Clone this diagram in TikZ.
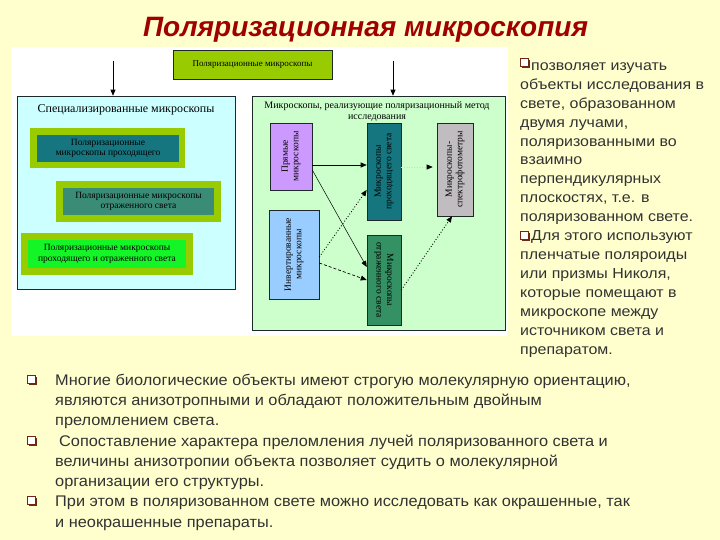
\documentclass[tikz,border=0pt]{standalone}
\usepackage{fontspec}
\setmainfont{Liberation Sans}
\newfontfamily\diagfont{Liberation Serif}
\newfontfamily\rfont[FakeStretch=1.1]{Liberation Sans}
\newfontfamily\bfont[FakeStretch=1.06]{Liberation Sans}
\usetikzlibrary{arrows.meta,calc}
\definecolor{bgy}{RGB}{255,255,206}
\definecolor{titlered}{RGB}{160,0,0}
\definecolor{ygreen}{RGB}{153,204,0}
\definecolor{tealA}{RGB}{22,118,128}
\definecolor{tealB}{RGB}{58,140,118}
\definecolor{limeC}{RGB}{20,245,40}
\definecolor{cyanbg}{RGB}{204,255,255}
\definecolor{greenbg}{RGB}{204,255,204}
\definecolor{purpleD}{RGB}{204,153,255}
\definecolor{grayD}{RGB}{192,188,192}
\definecolor{blueD}{RGB}{153,204,255}
\definecolor{greenD}{RGB}{51,145,100}
\definecolor{edge}{RGB}{30,40,40}
\definecolor{txt}{RGB}{50,50,50}
\definecolor{bulc}{RGB}{110,40,20}
\tikzset{
  box/.style={draw=edge, line width=0.6pt, inner sep=1pt, align=center, font=\diagfont\fontsize{9.5}{10.5}\selectfont},
  plain/.style={inner sep=0pt, outer sep=0pt},
  arr/.style={-{Triangle[length=6pt,width=5pt]}, line width=0.7pt, black},
  dotarr/.style={-{Triangle[length=6pt,width=5pt]}, line width=0.9pt, black, dotted},
  rtext/.style={inner sep=0pt, anchor=base west, text=txt, font=\rfont\fontsize{14.5}{16}\selectfont},
  btext/.style={inner sep=0pt, anchor=base west, text=txt, font=\bfont\fontsize{15.4}{17}\selectfont},
  qb/.pic={
    \fill[bulc] (2,2) rectangle (10,10);
    \filldraw[fill=white, draw=bulc, line width=1.1pt] (0.5,0.5) rectangle (8.5,8.5);
  }
}
\begin{document}
\begin{tikzpicture}[x=1pt,y=-1pt]
\useasboundingbox (0,0) rectangle (720,540);
\fill[bgy] (0,0) rectangle (720,540);
\fill[white] (11,47) rectangle (508,336);
% title
\node[plain, anchor=base, text=titlered, font=\bfseries\itshape\fontsize{28}{32}\selectfont] (title) at (365.5,37) {Поляризационная микроскопия};
% top box
\node[box, fill=ygreen, minimum width=159pt, minimum height=29pt, font=\diagfont\fontsize{9}{10}\selectfont] (top) at (252.5,64.5) {Поляризационные микроскопы};
% left group
\node[box, fill=cyanbg, minimum width=218pt, minimum height=193pt] (spec) at (126,192.5) {};
\node[plain, font=\diagfont\fontsize{12}{13}\selectfont] (spech) at (126,110) {Специализированные микроскопы};
\node[plain, fill=ygreen, minimum width=155pt, minimum height=40pt] (b1o) at (107.5,148) {};
\node[box, draw=none, fill=tealA, minimum width=142pt, minimum height=27pt] (b1) at (108,148.5) {Поляризационные\\микроскопы проходящего};
\node[plain, fill=ygreen, minimum width=165pt, minimum height=41pt] (b2o) at (138.5,201.5) {};
\node[box, draw=none, fill=tealB, minimum width=151pt, minimum height=27pt] (b2) at (138.5,201.5) {Поляризационные микроскопы\\отраженного света};
\node[plain, fill=ygreen, minimum width=172pt, minimum height=42pt] (b3o) at (107,254) {};
\node[box, draw=none, fill=limeC, minimum width=158pt, minimum height=28pt] (b3) at (107,254) {Поляризационные микроскопы\\проходящего и отраженного света};
% right group
\node[box, fill=greenbg, minimum width=253pt, minimum height=234pt] (meth) at (378.5,213) {};
\node[plain, align=center, font=\diagfont\fontsize{10}{11}\selectfont] (methh) at (377,111.5) {Микроскопы, реализующие поляризационный метод\\исследования};
\node[box, fill=purpleD, minimum width=42pt, minimum height=67pt] (pur) at (291,156.5) {\rotatebox{90}{\begin{tabular}{@{}c@{}}Прямые\\микроскопы\end{tabular}}};
\node[box, fill=tealA, minimum width=34pt, minimum height=97pt] (tea) at (384,171.5) {\rotatebox{90}{\begin{tabular}{@{}c@{}}Микроскопы\\проходящего света\end{tabular}}};
\node[box, fill=grayD, minimum width=36pt, minimum height=93pt] (gry) at (455,169.5) {\rotatebox{90}{\begin{tabular}{@{}c@{}}Микроскопы-\\спектрофотометры\end{tabular}}};
\node[box, fill=blueD, minimum width=50pt, minimum height=89pt] (blu) at (294,254.5) {\rotatebox{90}{\begin{tabular}{@{}c@{}}Инвертированные\\микроскопы\end{tabular}}};
\node[box, fill=greenD, minimum width=34pt, minimum height=90pt] (grn) at (384,280) {\rotatebox{-90}{\begin{tabular}{@{}c@{}}Микроскопы\\отраженного света\end{tabular}}};
% arrows from above
\coordinate (la) at (113,61);
\coordinate (ra) at (393,61);
\draw[arr] (la) -- (la |- spec.north);
\draw[arr] (ra) -- (ra |- meth.north);
% inner connectors
\draw[arr] ($(pur.east)+(0,8.5)$) -- ($(tea.west)+(0,-6.5)$);
\draw[-{Triangle[length=6pt,width=5pt]}, line width=0.5pt] ($(pur.east)+(0,13.5)$) -- ($(grn.west)+(0,-13)$);
\draw[arr, densely dashed] ($(blu.east)+(0,8.5)$) -- (grn.west);
\draw[dotarr] ($(blu.east)+(0,2.5)$) -- ($(tea.west)+(0,18.5)$);
\draw[dotarr] ($(grn.east)+(0,10)$) -- ($(gry.south)+(-3,0)$);
\draw[-{Triangle[length=6pt,width=5pt,color=black]}, line width=0.6pt, greenbg!80!gray, dotted] ($(tea.east)+(0,-4.5)$) -- ($(gry.west)+(-4,-2.5)$);
% right column
\pic at (520,58) {qb};
\pic at (520,231) {qb};
\foreach \t [count=\i] in {{позволяет изучать},{объекты исследования в},{свете, образованном},{двумя лучами,},{поляризованными во},{взаимно},{перпендикулярных},{плоскостях, т.е. в},{поляризованном свете.},{Для этого используют},{пленчатые поляроиды},{или призмы Николя,},{которые помещают в},{микроскопе между},{источником света и},{препаратом.}}{
  \ifnum\i=1 \def\xx{531}\else\ifnum\i=10 \def\xx{531}\else\def\xx{520}\fi\fi
  \node[rtext] (r\i) at (\xx,{70.5+18.9*(\i-1)}) {\t};
}
% bottom bullets
\pic at (27,375) {qb};
\pic at (27,436) {qb};
\pic at (27,496) {qb};
\node[btext] (p1) at (55,385) {Многие биологические объекты имеют строгую молекулярную ориентацию,};
\node[btext] (p2) at (55,405.5) {являются анизотропными и обладают положительным двойным};
\node[btext] (p3) at (55,425) {преломлением света.};
\node[btext] (p4) at (59,446) {Сопоставление характера преломления лучей поляризованного света и};
\node[btext] (p5) at (55,466) {величины анизотропии объекта позволяет судить о молекулярной};
\node[btext] (p6) at (55,486) {организации его структуры.};
\node[btext] (p7) at (55,506.5) {При этом в поляризованном свете можно исследовать как окрашенные, так};
\node[btext] (p8) at (55,527) {и неокрашенные препараты.};
\end{tikzpicture}
\end{document}
